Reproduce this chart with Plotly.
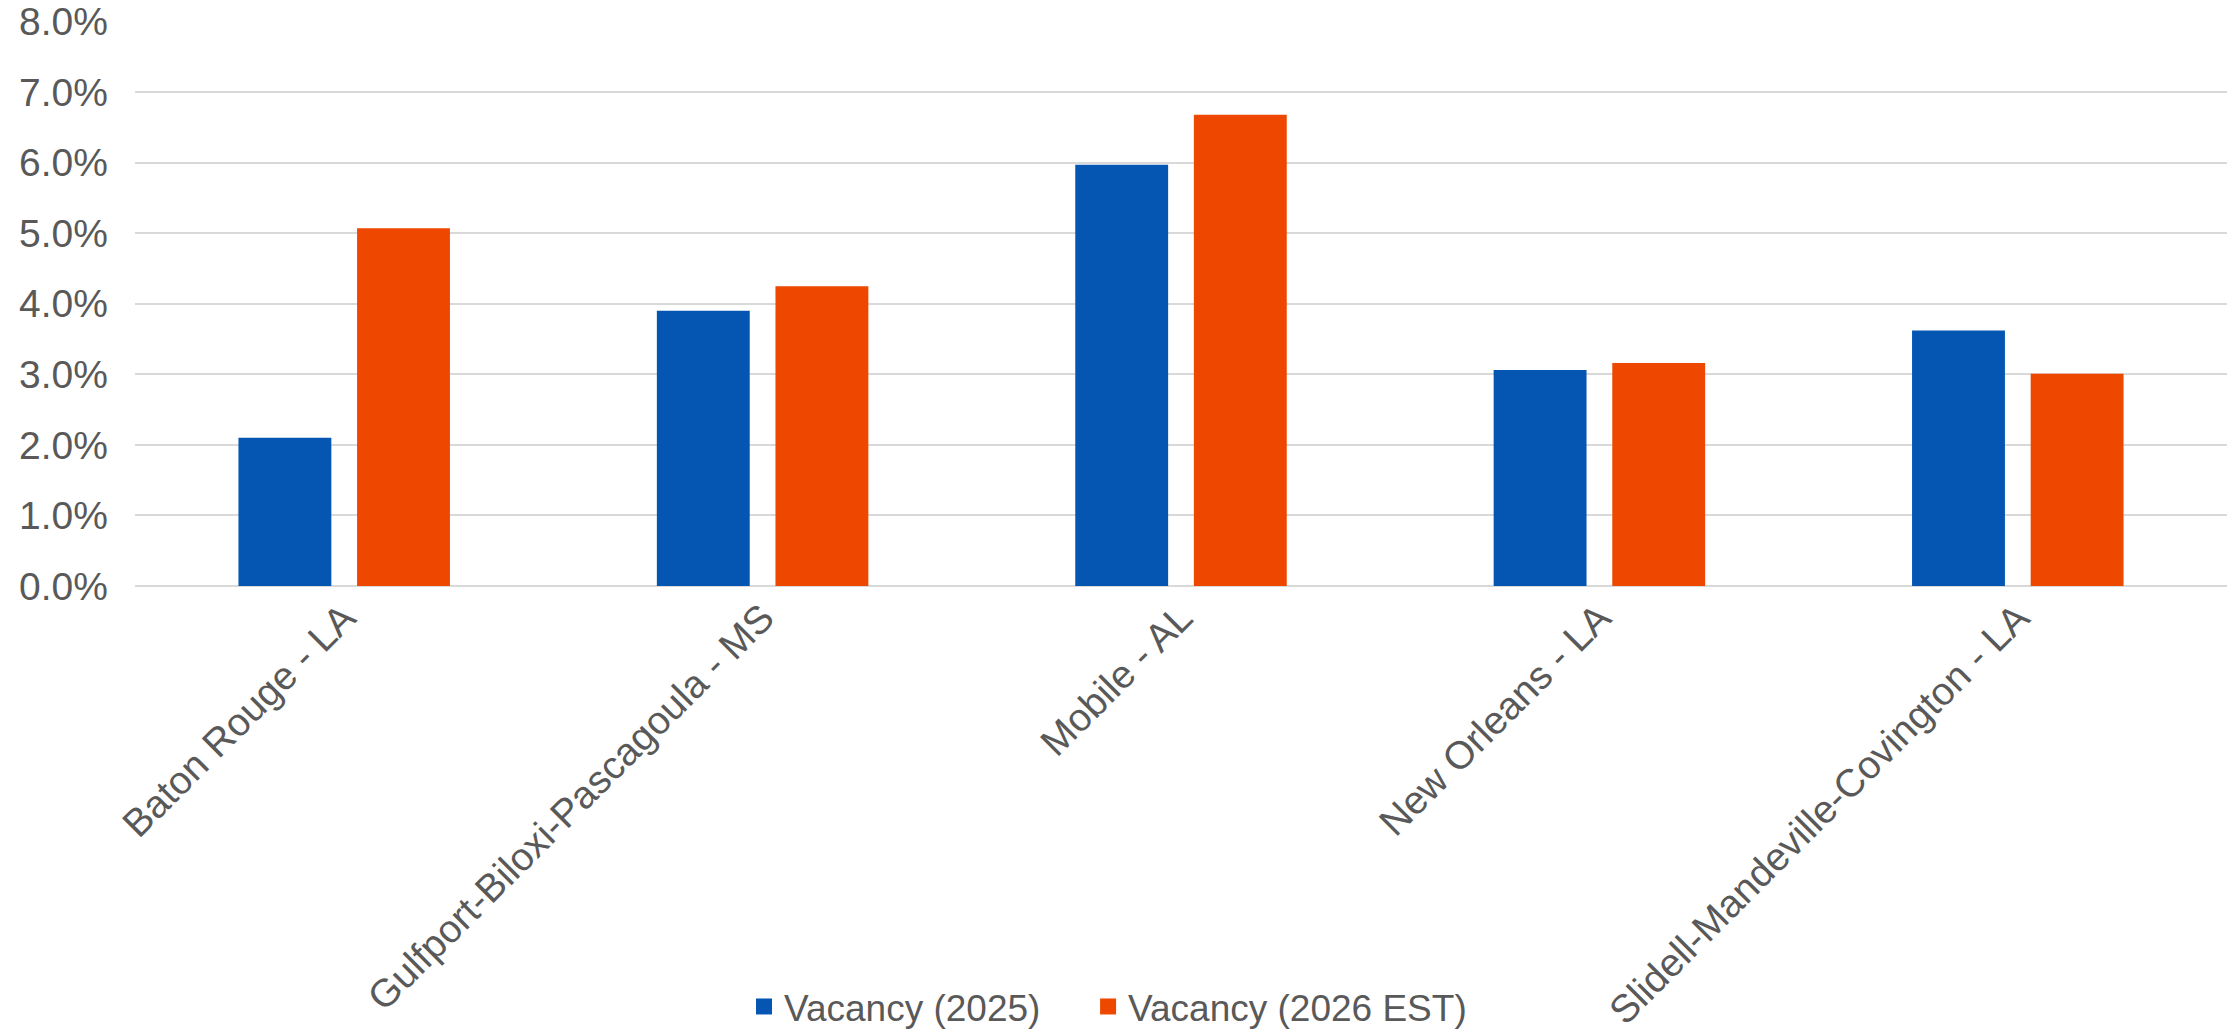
import plotly.graph_objects as go

categories = ["Baton Rouge - LA", "Gulfport-Biloxi-Pascagoula - MS", "Mobile - AL",
              "New Orleans - LA", "Slidell-Mandeville-Covington - LA"]
vacancy_2025 = [0.021, 0.039, 0.0597, 0.0306, 0.0362]
vacancy_2026_est = [0.0507, 0.0425, 0.0668, 0.0316, 0.0301]
y_ticks = [0, 0.01, 0.02, 0.03, 0.04, 0.05, 0.06, 0.07, 0.08]
series_names = ["Vacancy (2025)", "Vacancy (2026 EST)"]
series_colors = ["#0556B3", "#EE4700"]

FONT = "Liberation Sans, Arial, sans-serif"
TXT = "#595959"

fig = go.Figure()
for name, vals, col in zip(series_names, [vacancy_2025, vacancy_2026_est], series_colors):
    fig.add_trace(go.Bar(x=categories, y=vals, name=name, showlegend=False,
                         marker=dict(color=col, line=dict(width=0))))
# legend entries with larger square swatches, each in its own legend box
legend_ids = ["legend", "legend2"]
for name, col, lg in zip(series_names, series_colors, legend_ids):
    fig.add_trace(go.Scatter(x=[None], y=[None], mode="markers", name=name, legend=lg,
                             marker=dict(symbol="square", size=20, color=col)))

legend_common = dict(orientation="h", xanchor="left", xref="container",
                     y=-0.745, yanchor="middle", yref="paper",
                     font=dict(size=37, color=TXT), itemwidth=30,
                     bgcolor="rgba(0,0,0,0)")

fig.update_layout(
    width=2237, height=1031,
    margin=dict(l=135, r=10, t=21, b=445, autoexpand=False),
    paper_bgcolor="white", plot_bgcolor="white",
    barmode="group", bargap=0.433, bargroupgap=0.217,
    font=dict(family=FONT, color=TXT, size=39),
    showlegend=True,
    legend=dict(x=0.3326, **legend_common),
    legend2=dict(x=0.4864, **legend_common),
)
fig.update_xaxes(tickangle=-45, showgrid=False, showline=False, ticks="",
                 automargin=False, tickfont=dict(size=39, color=TXT))
fig.update_yaxes(range=[0, 0.08008], tickvals=y_ticks, tickformat=".1%",
                 showgrid=True, gridcolor="#D9D9D9", gridwidth=2,
                 zeroline=True, zerolinecolor="#D9D9D9", zerolinewidth=2,
                 showline=False, ticks="", ticklabelstandoff=26, automargin=False,
                 tickfont=dict(size=39, color=TXT))

fig.write_html("out.html")
